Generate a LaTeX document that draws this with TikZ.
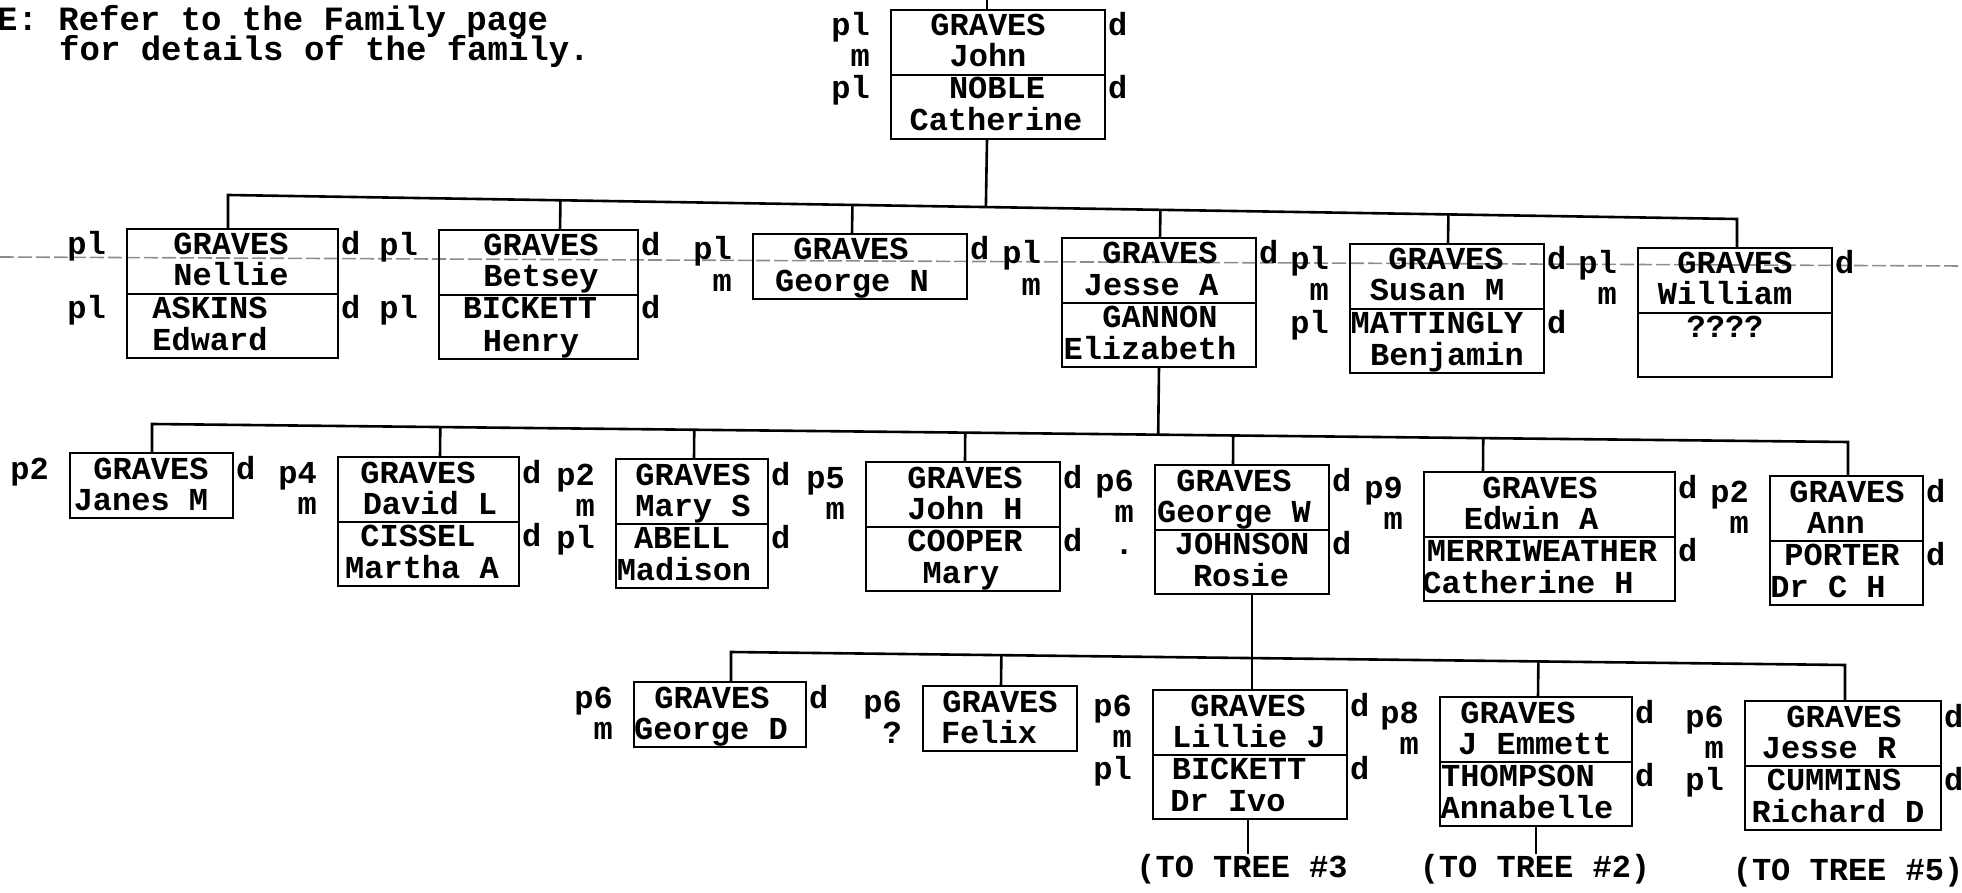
\documentclass[tikz,border=0pt]{standalone}
\usepackage{fontspec}
\newfontfamily\tw{Liberation Mono}
\usetikzlibrary{calc}
\newcommand\cur[3]{\def\bxa{#1}\def\bxb{#2}\def\byt{#3}}
\newcommand\bxfour[1]{\node[box, minimum width={\bxb-\bxa}, minimum height=129, anchor=north west] (#1) at (\bxa,\byt) {};
  \draw[ln] ([yshift=-65pt]#1.north west) -- ([yshift=-65pt]#1.north east);}
\newcommand\bxtwo[1]{\node[box, minimum width={\bxb-\bxa}, minimum height=65, anchor=north west] (#1) at (\bxa,\byt) {};}
\newcommand\tA[3]{\node[txt] (#1) at (#2,{\byt+26}) {#3};}
\newcommand\tB[3]{\node[txt] (#1) at (#2,{\byt+57}) {#3};}
\newcommand\tC[3]{\node[txt] (#1) at (#2,{\byt+89}) {#3};}
\newcommand\tD[3]{\node[txt] (#1) at (#2,{\byt+121}) {#3};}
\newcommand\lft[3]{\node[txt, anchor=base east] (#1) at ({\bxa-21},{\byt+#2}) {#3};}
\newcommand\dd[2]{\node[txt, anchor=base west] (#1) at ({\bxb+3},{\byt+#2}) {d};}
\begin{document}
\begin{tikzpicture}[x=1pt,y=-1pt,
  ln/.style={line width=2.6pt, line join=miter},
  box/.style={draw, line width=2.6pt, rectangle, inner sep=0pt, outer sep=0pt},
  txt/.style={font=\tw\bfseries\fontsize{32}{32}\selectfont, inner sep=0pt, anchor=base},
  note/.style={font=\tw\bfseries\fontsize{34}{34}\selectfont, inner sep=0pt, anchor=base west},
  fold/.style={draw=black!45, line width=1.6pt, dash pattern=on 14pt off 4pt}]
\useasboundingbox (0,0) rectangle (1962,893);
\coordinate (foldL) at (0,257);
\coordinate (foldR) at (1962,266);
\draw[fold] (foldL) -- (foldR);

% note
\node[note] (note1) at (-3,31) {E: Refer to the Family page};
\node[note] (note2) at (59,61) {for details of the family.};

% ---------- generation 0
\cur{891}{1105}{10}\bxfour{john}
\tA{john-1}{988}{GRAVES}\tB{john-2}{988}{John}\tC{john-3}{997}{NOBLE}\tD{john-4}{996}{Catherine}
\lft{john-p1}{26}{pl}\lft{john-m}{57}{m}\lft{john-p2}{89}{pl}\dd{john-d1}{26}\dd{john-d2}{89}
\coordinate (john-up) at ([xshift=-11pt]john.north);
\coordinate (john-dn) at ([xshift=-11pt]john.south);
\coordinate (topend) at ([yshift=10pt]john-up);

% ---------- generation 1
\cur{127}{338}{229}\bxfour{nellie}
\tA{nellie-1}{231}{GRAVES}\tB{nellie-2}{231}{Nellie}\tC{nellie-3}{210}{ASKINS}\tD{nellie-4}{210}{Edward}
\lft{nellie-p1}{26}{pl}\lft{nellie-p2}{89}{pl}\dd{nellie-d1}{26}\dd{nellie-d2}{89}
\coordinate (nellie-up) at ([xshift=-4.5pt]nellie.north);

\cur{439}{638}{230}\bxfour{betsey}
\tA{betsey-1}{541}{GRAVES}\tB{betsey-2}{541}{Betsey}\tC{betsey-3}{530}{BICKETT}\tD{betsey-4}{531}{Henry}
\lft{betsey-p1}{26}{pl}\lft{betsey-p2}{89}{pl}\dd{betsey-d1}{26}\dd{betsey-d2}{89}
\coordinate (betsey-up) at ([xshift=21.5pt]betsey.north);

\cur{753}{967}{234}\bxtwo{georgen}
\tA{georgen-1}{851}{GRAVES}\tB{georgen-2}{852}{George N}
\lft{georgen-p1}{26}{pl}\lft{georgen-m}{57}{m}\dd{georgen-d1}{26}
\coordinate (georgen-up) at ([xshift=-8pt]georgen.north);

\cur{1062}{1256}{238}\bxfour{jessea}
\tA{jessea-1}{1160}{GRAVES}\tB{jessea-2}{1151}{Jesse A}\tC{jessea-3}{1160}{GANNON}\tD{jessea-4}{1150}{Elizabeth}
\lft{jessea-p1}{26}{pl}\lft{jessea-m}{57}{m}\dd{jessea-d1}{26}
\coordinate (jessea-up) at ([xshift=1pt]jessea.north);
\coordinate (jessea-dn) at (jessea.south);

\cur{1350}{1544}{244}\bxfour{susan}
\tA{susan-1}{1446}{GRAVES}\tB{susan-2}{1437}{Susan M}\tC{susan-3}{1437}{MATTINGLY}\tD{susan-4}{1447}{Benjamin}
\lft{susan-p1}{26}{pl}\lft{susan-m}{57}{m}\lft{susan-p2}{89}{pl}\dd{susan-d1}{26}\dd{susan-d2}{89}
\coordinate (susan-up) at ([xshift=1pt]susan.north);

\cur{1638}{1832}{248}\bxfour{william}
\tA{william-1}{1735}{GRAVES}\tB{william-2}{1725}{William}\tC{william-3}{1725}{????}
\lft{william-p1}{26}{pl}\lft{william-m}{57}{m}\dd{william-d1}{26}
\coordinate (william-up) at ([xshift=2pt]william.north);

% ---------- generation 2
\cur{70}{233}{453}\bxtwo{janes}
\tA{janes-1}{151}{GRAVES}\tB{janes-2}{141}{Janes M}
\lft{janes-p1}{26}{p2}\dd{janes-d1}{26}
\coordinate (janes-up) at ([xshift=0.5pt]janes.north);

\cur{338}{519}{457}\bxfour{david}
\tA{david-1}{418}{GRAVES}\tB{david-2}{430}{David L}\tC{david-3}{418}{CISSEL}\tD{david-4}{422}{Martha A}
\lft{david-p1}{26}{p4}\lft{david-m}{57}{m}\dd{david-d1}{26}\dd{david-d2}{89}
\coordinate (david-up) at ([xshift=11.5pt]david.north);

\cur{616}{768}{459}\bxfour{marys}
\tA{marys-1}{693}{GRAVES}\tB{marys-2}{693}{Mary S}\tC{marys-3}{682}{ABELL}\tD{marys-4}{684}{Madison}
\lft{marys-p1}{26}{p2}\lft{marys-m}{57}{m}\lft{marys-p2}{89}{pl}\dd{marys-d1}{26}\dd{marys-d2}{89}
\coordinate (marys-up) at ([xshift=2pt]marys.north);

\cur{866}{1060}{462}\bxfour{johnh}
\tA{johnh-1}{965}{GRAVES}\tB{johnh-2}{965}{John H}\tC{johnh-3}{965}{COOPER}\tD{johnh-4}{961}{Mary}
\lft{johnh-p1}{26}{p5}\lft{johnh-m}{57}{m}\dd{johnh-d1}{26}\dd{johnh-d2}{89}
\coordinate (johnh-up) at ([xshift=2pt]johnh.north);

\cur{1155}{1329}{465}\bxfour{georgew}
\tA{georgew-1}{1234}{GRAVES}\tB{georgew-2}{1234}{George W}\tC{georgew-3}{1242}{JOHNSON}\tD{georgew-4}{1241}{Rosie}
\lft{georgew-p1}{26}{p6}\lft{georgew-m}{57}{m}\lft{georgew-dot}{89}{.}\dd{georgew-d1}{26}\dd{georgew-d2}{89}
\coordinate (georgew-up) at ([xshift=-9pt]georgew.north);
\coordinate (georgew-dn) at ([xshift=10pt]georgew.south);

\cur{1424}{1675}{472}\bxfour{edwin}
\tA{edwin-1}{1540}{GRAVES}\tB{edwin-2}{1531}{Edwin A}\tC{edwin-3}{1542}{MERRIWEATHER}\tD{edwin-4}{1528}{Catherine H}
\lft{edwin-p1}{26}{p9}\lft{edwin-m}{57}{m}\dd{edwin-d1}{26}\dd{edwin-d2}{89}
\coordinate (edwin-up) at ([xshift=-66.5pt]edwin.north);

\cur{1770}{1923}{476}\bxfour{ann}
\tA{ann-1}{1847}{GRAVES}\tB{ann-2}{1836}{Ann}\tC{ann-3}{1842}{PORTER}\tD{ann-4}{1828}{Dr C H}
\lft{ann-p1}{26}{p2}\lft{ann-m}{57}{m}\dd{ann-d1}{26}\dd{ann-d2}{89}
\coordinate (ann-up) at ([xshift=1.5pt]ann.north);

% ---------- generation 3
\cur{634}{806}{682}\bxtwo{georged}
\tA{georged-1}{712}{GRAVES}\tB{georged-2}{711}{George D}
\lft{georged-p1}{26}{p6}\lft{georged-m}{57}{m}\dd{georged-d1}{26}
\coordinate (georged-up) at ([xshift=11pt]georged.north);

\cur{923}{1077}{686}\bxtwo{felix}
\tA{felix-1}{1000}{GRAVES}\tB{felix-2}{989}{Felix}
\lft{felix-p1}{26}{p6}\lft{felix-q}{57}{?}
\coordinate (felix-up) at ([xshift=1pt]felix.north);

\cur{1153}{1347}{690}\bxfour{lillie}
\tA{lillie-1}{1248}{GRAVES}\tB{lillie-2}{1249}{Lillie J}\tC{lillie-3}{1239}{BICKETT}\tD{lillie-4}{1228}{Dr Ivo}
\lft{lillie-p1}{26}{p6}\lft{lillie-m}{57}{m}\lft{lillie-p2}{89}{pl}\dd{lillie-d1}{26}\dd{lillie-d2}{89}
\coordinate (lillie-up) at ([xshift=2pt]lillie.north);
\coordinate (lillie-dn) at ([xshift=-2pt]lillie.south);

\cur{1440}{1632}{697}\bxfour{jemmett}
\tA{jemmett-1}{1518}{GRAVES}\tB{jemmett-2}{1535}{J Emmett}\tC{jemmett-3}{1518}{THOMPSON}\tD{jemmett-4}{1527}{Annabelle}
\lft{jemmett-p1}{26}{p8}\lft{jemmett-m}{57}{m}\dd{jemmett-d1}{26}\dd{jemmett-d2}{89}
\coordinate (jemmett-up) at ([xshift=2pt]jemmett.north);
\coordinate (jemmett-dn) at (jemmett.south);

\cur{1745}{1941}{701}\bxfour{jesser}
\tA{jesser-1}{1844}{GRAVES}\tB{jesser-2}{1829}{Jesse R}\tC{jesser-3}{1834}{CUMMINS}\tD{jesser-4}{1838}{Richard D}
\lft{jesser-p1}{26}{p6}\lft{jesser-m}{57}{m}\lft{jesser-p2}{89}{pl}\dd{jesser-d1}{26}\dd{jesser-d2}{89}
\coordinate (jesser-up) at ([xshift=2pt]jesser.north);

\node[txt] (tree3) at (1242,877) {(TO TREE \#3};
\node[txt] (tree2) at (1535,877) {(TO TREE \#2)};
\node[txt] (tree5) at (1848,880) {(TO TREE \#5)};

% ---------- connectors
\draw[ln] (john-up) -- (topend);
\coordinate (b1L) at ([yshift=34pt]nellie-up);
\coordinate (b1R) at ([yshift=29pt]william-up);
\draw[ln] (nellie-up) -- (b1L) -- (b1R) -- (william-up);
\foreach \n in {betsey,georgen,jessea,susan}
  \draw[ln] (\n-up) -- ($(b1L)!(\n-up)!(b1R)$);
\draw[ln] (john-dn) -- ($(b1L)!(john-dn)!(b1R)$);

\coordinate (b2L) at ([yshift=29pt]janes-up);
\coordinate (b2R) at ([yshift=34pt]ann-up);
\draw[ln] (janes-up) -- (b2L) -- (b2R) -- (ann-up);
\foreach \n in {david,marys,johnh,georgew,edwin}
  \draw[ln] (\n-up) -- ($(b2L)!(\n-up)!(b2R)$);
\draw[ln] (jessea-dn) -- ($(b2L)!(jessea-dn)!(b2R)$);

\coordinate (b3L) at ([yshift=30pt]georged-up);
\coordinate (b3R) at ([yshift=36pt]jesser-up);
\draw[ln] (georged-up) -- (b3L) -- (b3R) -- (jesser-up);
\foreach \n in {felix,jemmett}
  \draw[ln] (\n-up) -- ($(b3L)!(\n-up)!(b3R)$);
\draw[ln] (georgew-dn) -- (lillie-up);

\draw[ln] (lillie-dn) -- (lillie-dn |- tree3.north);
\draw[ln] (jemmett-dn) -- (jemmett-dn |- tree2.north);
\end{tikzpicture}
\end{document}
